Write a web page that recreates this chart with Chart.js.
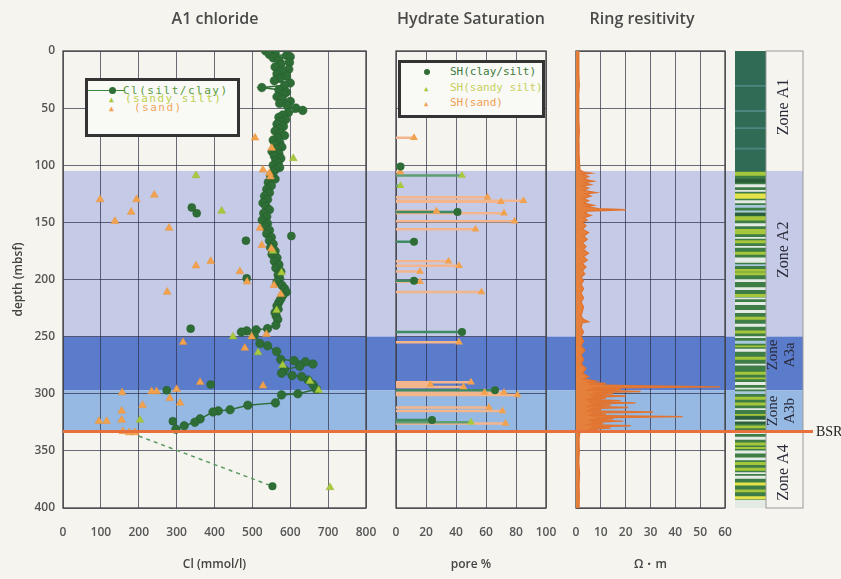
<!DOCTYPE html>
<html>
<head>
<meta charset="utf-8">
<title>A1 chloride / Hydrate Saturation / Ring resitivity</title>
<script src="https://cdn.jsdelivr.net/npm/chart.js@4.4.1/dist/chart.umd.min.js"></script>
<style>
  body { margin: 0; background: #f5f4ef; }
  #wrap { position: relative; width: 841px; height: 579px; overflow: hidden; font-family: "Open Sans", sans-serif; }
  #wrap canvas { position: absolute; left: 0; top: 0; }
  .title { position: absolute; top: 7px; transform: translateX(-50%); font-size: 16px; font-weight: 600; color: #4a4a4a; white-space: nowrap; }
  .legend { position: absolute; box-sizing: border-box; border: 3px solid #333; background: #f9f9f6; font-family: "DejaVu Sans Mono", monospace; }
  .legend div { position: absolute; white-space: nowrap; line-height: 10px; }
</style>
</head>
<body>
<div id="wrap">
  <canvas id="bg" width="841" height="579"></canvas>
  <canvas id="clChart" width="841" height="579"></canvas>
  <canvas id="hsChart" width="841" height="579"></canvas>
  <canvas id="rsChart" width="841" height="579"></canvas>
  <canvas id="lithChart" width="841" height="579"></canvas>
  <canvas id="fg" width="841" height="579"></canvas>

  <div class="title" style="left:215px">A1 chloride</div>
  <div class="title" style="left:471px">Hydrate Saturation</div>
  <div class="title" style="left:642px">Ring resitivity</div>

  <div class="legend" style="left:85px;top:78px;width:155px;height:59px;font-size:11px;letter-spacing:1.5px">
    <div style="left:0;top:9px;width:37px;height:1px;background:#3d8a3d"></div>
    <div style="left:21px;top:6px;width:7px;height:7px;border-radius:50%;background:#2e6e36"></div>
    <div style="left:35px;top:5px;color:#5a9a40">Cl(silt/clay)</div>
    <div style="left:21px;top:14px;font-size:8px;color:#a8c83e">▲</div>
    <div style="left:37px;top:13px;color:#c0d050">(sandy silt)</div>
    <div style="left:21px;top:23px;font-size:8px;color:#f2a24e">▲</div>
    <div style="left:46px;top:22px;color:#f0a860">(sand)</div>
  </div>

  <div class="legend" style="left:398px;top:60px;width:147px;height:58px;font-size:11px">
    <div style="left:23px;top:6px;width:6px;height:6px;border-radius:50%;background:#2e6e36"></div>
    <div style="left:49px;top:4px;color:#3d7a3d">SH(clay/silt)</div>
    <div style="left:23px;top:21px;font-size:7px;color:#a8c83e">▲</div>
    <div style="left:49px;top:20px;color:#c8d060">SH(sandy silt)</div>
    <div style="left:23px;top:36px;font-size:7px;color:#f2a24e">▲</div>
    <div style="left:49px;top:35px;color:#f0a050">SH(sand)</div>
  </div>
</div>

<script>
// zones (depth, mbsf)
const zoneTop = [105, 250, 297];
const zoneBottom = [250, 297, 333];
const bsrDepth = 333;
const zoneLabelLines = [["Zone A1"], ["Zone A2"], ["Zone", "A3a"], ["Zone", "A3b"], ["Zone A4"]];
const zoneLabelDepth = [49, 174, 266, 315, 369];

// chloride, silt/clay (connected)
const clayDepth = [0,1,2,3,4,5,6,8,10,12,14,16,18,20,22,24,26,28,30,32,34,36,38,40,42,44,46,48,50,52,54,56,58,60,62,64,66,68,70,72,74,76,78,80,82,84,86,88,90,92,94,96,98,100,102,104,
  106,109,112,115,118,121,124,127,130,133,136,139,142,145,148,151,154,157,160,163,166,169,172,175,178,181,184,187,190,193,196,199,202,205,208,211,214,217,220,223,226,229,232,235,
  240,243,244,245,246,249,256,258,263,270,271,272,274,276,279,282,284,285,288,292,296,300,301,308,310,314,315,316,322,325,328,331];
const clayCl = [535,548,560,545,590,600,555,570,598,575,560,596,580,565,590,572,558,600,585,525,570,590,582,565,578,600,572,592,615,633,595,580,570,588,575,565,582,570,560,575,585,566,555,572,560,578,565,552,570,558,575,562,568,555,572,560,
  555,548,560,542,550,538,545,532,540,528,536,545,530,538,526,540,533,545,538,550,545,555,548,560,552,565,558,570,562,575,568,572,565,578,585,590,580,575,570,565,568,560,563,567,
  562,540,510,485,471,505,520,540,564,575,610,640,660,625,585,577,605,630,647,660,669,620,577,561,488,441,410,396,362,348,320,298];
// chloride, silt/clay (isolated samples)
const clayLoneDepth = [137, 142, 162, 166, 199, 243, 292, 297, 324];
const clayLoneCl = [340, 353, 603, 483, 485, 337, 390, 274, 290];
// below the BSR (dashed)
const deepDepth = [337, 381];
const deepCl = [200, 553];
// chloride, sandy silt
const siltDepth = [94, 109, 140, 175, 194, 227, 250, 264, 275, 289, 297, 323, 382];
const siltCl = [608, 351, 419, 554, 577, 564, 449, 515, 580, 652, 675, 203, 705];
// chloride, sand
const sandDepth = [76,85,104,107,110,126,130,130,141,149,155,155,170,173,184,188,193,202,205,211,213,248,250,255,260,290,293,296,298,298,299,304,308,310,315,323,324,324,333,334,334];
const sandCl = [507,551,528,545,548,241,98,194,180,137,280,520,525,550,390,351,467,486,557,275,575,537,498,317,480,362,528,300,234,247,156,282,309,210,155,155,95,115,158,175,190];

// hydrate saturation (pore %)
const hsClayDepth = [101, 141, 167, 201, 246, 297, 323];
const hsClayVal = [3, 41, 12, 12, 44, 66, 24];
const hsSiltDepth = [109, 118, 325];
const hsSiltVal = [44, 3, 50];
const hsSandDepth = [76,106,128,131,132,140,142,149,156,184,188,193,202,211,255,290,292,294,299,299,301,312,315,326];
const hsSandVal = [12,3,61,85,70,27,72,79,53,35,42,16,16,57,42,50,23,45,59,72,81,62,71,73];

// ring resistivity (ohm m)
const resDepth = [0,10,20,30,40,50,60,70,80,90,100,104,
  106,107,108,110,112,114,115,117,118,120,122,124,125,127,129,131,133,135,136,138,139,140,142,144,146,
  148,150,153,156,159,162,165,168,171,174,177,180,183,186,189,192,195,198,201,204,208,212,216,220,224,228,232,235,237,238,242,246,250,
  254,258,262,266,270,274,278,282,285,287,289,290,
  291,292,293,294,295,296,297,298,299,300,301,302,303,304,305,306,307,308,309,310,311,312,313,314,315,316,317,318,319,320,321,322,323,324,325,326,327,328,329,330,331,332,333,
  334,340,350,360,370,380,390,400];
const resVal = [1,1.2,1,1.3,1,1.2,1,1.3,1.1,1.2,1.4,1.5,
  3,6,2.5,5,3,7,3.5,6,2.5,5,3,8,4,6,3,5,3,7,4,9,20,5,3.5,6,3,
  4.5,2.5,4,2.5,5,3,4.5,2.5,4,3,5,3,4.5,2.5,4,2.5,3.5,2,3,2,3,2,3,2,3,2.5,2,3,5,2.5,2,3,2,
  3,2,3.5,2,3,2,4,2.5,5,3,8,4,
  12,5,22,58,6,18,4,26,7,15,5,20,6,12,4,18,5,24,6,14,4,21,6,10,4,31,6,12,5,43,8,15,5,19,6,11,4,22,6,14,5,9,3,
  1.5,1.2,1.3,1.1,1.4,1.2,1.3,1.2];

// lithology column stripes
const lithTop =    [30,52,67,85, 106,145,156,166,176,191,194,213,233,245,258,268,281,286,303,308,318,328,343,347,360,365,384, 125,378,390,
  117,122,131,151,163,171,181,200,207,216,220,227,239,250,261,274,290,295,313,323,333,338,350,356,369,372,393, 135,140,187,254,298, 112,142,320];
const lithBottom = [31,53,68,86, 109,148,160,168,178,193,196,215,235,247,259,270,283,287,305,310,319,330,345,348,362,367,386, 129,380,392,
  119,123,133,153,164,172,185,202,209,217,222,229,241,251,263,275,292,296,314,324,335,340,352,358,370,374,400, 137,141,188,256,300, 115,144,326];
const lithKind =   ["t","t","t","t", "y","y","y","y","y","y","y","y","y","y","y","y","y","y","y","y","y","y","y","y","y","y","y", "Y","Y","Y",
  "w","w","w","w","w","w","w","w","w","w","w","w","w","w","w","w","w","w","w","w","w","w","w","w","w","w","w", "b","b","b","b","b", "g","g","g"];
const lithBaseTop = [0, 106];
const lithBaseBottom = [106, 400];

// styles
const zoneColors = ["#c5cae6", "#5b7bcb", "#95b9e2"];
const lithColors = { t: "#4f8580", y: "#a6c63c", Y: "#e4e44a", w: "#e4ebe4", b: "#aac8dc", g: "#2a5e3a" };
const lithBaseColors = ["#2f6b55", "#3f7d46"];
const clayColor = "#2e6e36", siltColor = "#a8c83e", sandColor = "#f2a24e";
const gridColor = "rgba(45,45,70,0.7)";
const tickFont = { family: "Open Sans", size: 12, weight: "600" };
const titleFont = { family: "Open Sans", size: 12, weight: "600" };

const pts = (ds, vs) => ds.map((d, i) => ({ x: vs[i], y: d }));
const stems = (ds, vs) => ds.flatMap((d, i) => [{ x: 0, y: d }, { x: vs[i], y: d }, { x: null, y: null }]);

const framePlugin = {
  id: "frame",
  beforeDatasetsDraw(chart) {
    const a = chart.chartArea, ctx = chart.ctx;
    ctx.save();
    ctx.strokeStyle = "#444";
    ctx.lineWidth = 1.3;
    ctx.strokeRect(a.left, a.top, a.right - a.left, a.bottom - a.top);
    ctx.restore();
  }
};

function depthScale(showLabels) {
  return {
    type: "linear", min: 0, max: 400, reverse: true,
    ticks: { stepSize: 50, display: showLabels, color: "#555", font: tickFont, padding: 8 },
    grid: { color: gridColor, drawTicks: false },
    border: { display: false },
    title: { display: showLabels, text: "depth (mbsf)", color: "#444", font: titleFont, padding: { top: 11 } },
    afterFit: s => { s.width = showLabels ? 63 : 0; }
  };
}
function valueScale(max, step, title) {
  return {
    type: "linear", position: "bottom", min: 0, max: max,
    ticks: { stepSize: step, color: "#555", font: tickFont, padding: 17, maxRotation: 0, autoSkip: false },
    grid: { color: gridColor, drawTicks: false },
    border: { display: false },
    title: { display: true, text: title, color: "#444", font: titleFont, padding: { bottom: 7 } },
    afterFit: s => { s.height = 71; }
  };
}
const baseOpts = (padLeft, padRight, xScale, yScale) => ({
  responsive: false, animation: false, devicePixelRatio: 1,
  layout: { padding: { left: padLeft, right: padRight, top: 51, bottom: 0 } },
  plugins: { legend: { display: false }, tooltip: { enabled: false } },
  scales: { x: xScale, y: yScale }
});
const hiddenScales = {
  x: { type: "linear", display: false, min: 0, max: 1 },
  y: { type: "linear", display: false, min: 0, max: 400, reverse: true }
};
const overlayOpts = {
  responsive: false, animation: false, devicePixelRatio: 1,
  layout: { padding: { left: 63, right: 38, top: 51, bottom: 71 } },
  plugins: { legend: { display: false }, tooltip: { enabled: false } },
  scales: hiddenScales
};

// background: zone bands
new Chart(document.getElementById("bg"), {
  type: "scatter", data: { datasets: [] }, options: overlayOpts,
  plugins: [{
    id: "bands",
    beforeDraw(chart) {
      const a = chart.chartArea, y = chart.scales.y, ctx = chart.ctx;
      zoneTop.forEach((t, i) => {
        const y0 = y.getPixelForValue(t), y1 = y.getPixelForValue(zoneBottom[i]);
        ctx.fillStyle = zoneColors[i];
        ctx.fillRect(a.left, y0, a.right - a.left, y1 - y0);
      });
    }
  }]
});

// chloride
new Chart(document.getElementById("clChart"), {
  type: "scatter",
  data: { datasets: [
    { data: pts(sandDepth, sandCl), pointStyle: "triangle", pointRadius: 4.5, backgroundColor: sandColor, borderColor: "#e8923a", borderWidth: 0.5 },
    { data: pts(siltDepth, siltCl), pointStyle: "triangle", pointRadius: 4.5, backgroundColor: siltColor, borderColor: "#98b830", borderWidth: 0.5 },
    { data: pts(clayLoneDepth, clayLoneCl), pointRadius: 4, backgroundColor: clayColor, borderColor: "#245a2c", borderWidth: 0.5 },
    { data: pts(clayDepth, clayCl), showLine: true, borderColor: "#2f6f37", borderWidth: 1.5, pointRadius: 4.3, pointBackgroundColor: clayColor, pointBorderColor: "#245a2c", pointBorderWidth: 0.5 },
    { data: pts(deepDepth, deepCl), showLine: true, borderDash: [4, 4], borderColor: "#5a9a60", borderWidth: 1.5, pointRadius: [0, 4], pointBackgroundColor: clayColor, pointBorderWidth: 0 }
  ] },
  options: baseOpts(0, 475, valueScale(800, 100, "Cl (mmol/l)"), depthScale(true)),
  plugins: [framePlugin]
});

// hydrate saturation
new Chart(document.getElementById("hsChart"), {
  type: "scatter",
  data: { datasets: [
    { data: pts(hsClayDepth, hsClayVal), pointRadius: 4, backgroundColor: clayColor, borderWidth: 0 },
    { data: pts(hsSandDepth, hsSandVal), pointStyle: "triangle", pointRadius: 4.5, backgroundColor: sandColor, borderWidth: 0 },
    { data: pts(hsSiltDepth, hsSiltVal), pointStyle: "triangle", pointRadius: 4.5, backgroundColor: siltColor, borderWidth: 0 },
    { data: stems(hsClayDepth, hsClayVal), showLine: true, spanGaps: false, pointRadius: 0, borderColor: "#3f8a62", borderWidth: 2.5 },
    { data: stems(hsSiltDepth, hsSiltVal), showLine: true, spanGaps: false, pointRadius: 0, borderColor: "#5e9e70", borderWidth: 2.5 },
    { data: stems(hsSandDepth, hsSandVal), showLine: true, spanGaps: false, pointRadius: 0, borderColor: "#f3b58c", borderWidth: 2.5 }
  ] },
  options: baseOpts(396, 295, valueScale(100, 20, "pore %"), depthScale(false)),
  plugins: [framePlugin]
});

// ring resistivity: vertical profile, filled towards 0
const rsOpts = baseOpts(576, 116, valueScale(60, 10, "Ω・m"), depthScale(false));
rsOpts.indexAxis = "y";
new Chart(document.getElementById("rsChart"), {
  type: "line",
  data: { datasets: [
    { data: pts(resDepth, resVal), pointRadius: 0, borderColor: "#e07430", backgroundColor: "#e4803c", borderWidth: 1.4, fill: "origin", tension: 0 }
  ] },
  options: rsOpts,
  plugins: [framePlugin]
});

// lithology column
const lithSets = lithTop.map((t, i) => ({ data: [[t, lithBottom[i]]], backgroundColor: lithColors[lithKind[i]] }));
lithBaseTop.forEach((t, i) => lithSets.push({ data: [[t, lithBaseBottom[i]]], backgroundColor: lithBaseColors[i] }));
new Chart(document.getElementById("lithChart"), {
  type: "bar",
  data: { labels: ["core"], datasets: lithSets },
  options: {
    responsive: false, animation: false, devicePixelRatio: 1,
    layout: { padding: { left: 735, right: 75, top: 51, bottom: 71 } },
    datasets: { bar: { grouped: false, barPercentage: 1, categoryPercentage: 1, borderWidth: 0 } },
    plugins: { legend: { display: false }, tooltip: { enabled: false } },
    scales: {
      x: { type: "category", display: false },
      y: { type: "linear", display: false, min: 0, max: 400, reverse: true }
    }
  }
});

// foreground: BSR line, zone labels
new Chart(document.getElementById("fg"), {
  type: "scatter", data: { datasets: [] }, options: overlayOpts,
  plugins: [{
    id: "bsr",
    afterDraw(chart) {
      const a = chart.chartArea, y = chart.scales.y, ctx = chart.ctx;
      ctx.save();
      // zone text column frame
      ctx.strokeStyle = "#9a9a9a";
      ctx.lineWidth = 1;
      ctx.strokeRect(a.right - 37, a.top, 37, a.bottom - a.top);
      // zone labels
      ctx.fillStyle = "#2a2a3a";
      ctx.textAlign = "center";
      ctx.textBaseline = "middle";
      zoneLabelLines.forEach((lines, i) => {
        const py = y.getPixelForValue(zoneLabelDepth[i]);
        ctx.font = (lines.length > 1 ? "15px" : "16px") + " 'Liberation Serif'";
        lines.forEach((txt, k) => {
          const px = lines.length > 1 ? a.right - 30 + k * 17 : a.right - 19;
          ctx.save();
          ctx.translate(px, py);
          ctx.rotate(-Math.PI / 2);
          ctx.fillText(txt, 0, 0);
          ctx.restore();
        });
      });
      // BSR
      const yb = y.getPixelForValue(bsrDepth);
      ctx.strokeStyle = "#e8703a";
      ctx.lineWidth = 3;
      ctx.beginPath();
      ctx.moveTo(a.left, yb);
      ctx.lineTo(a.right + 10, yb);
      ctx.stroke();
      ctx.fillStyle = "#222";
      ctx.textAlign = "left";
      ctx.font = "14px 'Liberation Serif'";
      ctx.fillText("BSR", a.right + 13, yb + 1);
      ctx.restore();
    }
  }]
});
</script>
</body>
</html>
